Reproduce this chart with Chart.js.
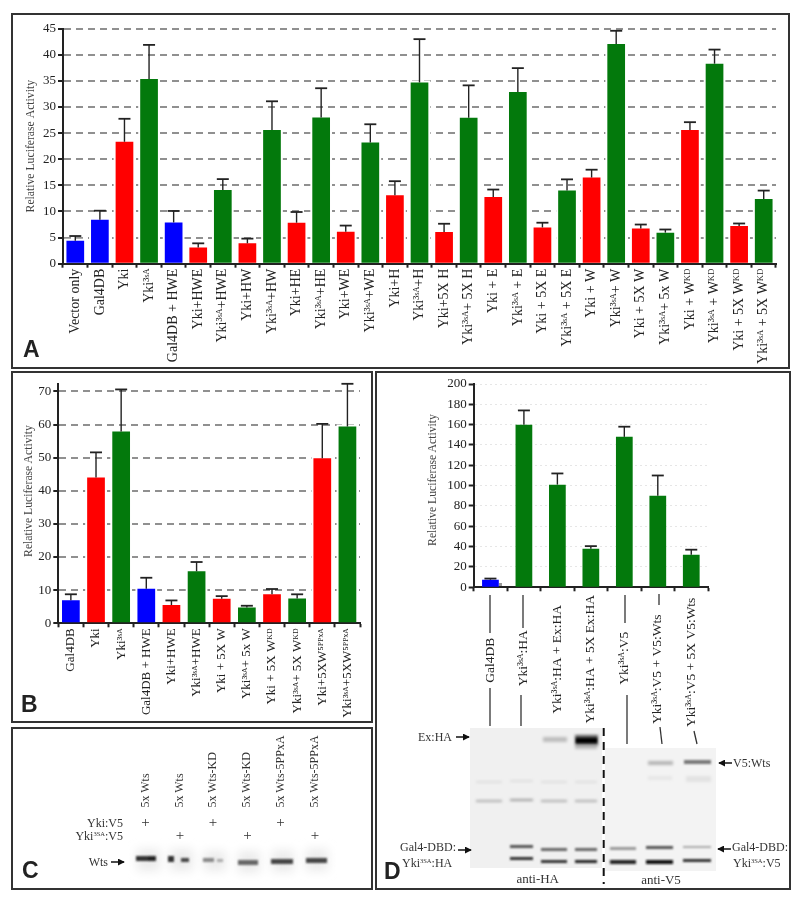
<!DOCTYPE html>
<html><head><meta charset="utf-8">
<script src="https://cdn.jsdelivr.net/npm/chart.js@4"></script>
<style>
html,body{margin:0;padding:0;background:#fff;width:800px;height:900px;overflow:hidden}
canvas{position:absolute;display:block}
svg{position:absolute;left:0;top:0;opacity:.999}
</style></head><body>
<svg width="800" height="900" viewBox="0 0 800 900" font-family="Liberation Serif" fill="#222">
<defs>
<filter id="b1" x="-30%" y="-200%" width="160%" height="500%"><feGaussianBlur stdDeviation="1.2"/></filter>
<filter id="b2" x="-30%" y="-200%" width="160%" height="500%"><feGaussianBlur stdDeviation="1.6"/></filter>
<filter id="b5" x="-30%" y="-100%" width="160%" height="300%"><feGaussianBlur stdDeviation="5"/></filter>
<marker id="ah" viewBox="0 0 8 8" refX="7" refY="4" markerWidth="7" markerHeight="7" markerUnits="userSpaceOnUse" orient="auto"><path d="M0 0L8 4L0 8z" fill="#111"/></marker>
</defs>
<g fill="none" stroke="#333" stroke-width="2">
<rect x="12" y="14" width="777" height="354"/>
<rect x="12" y="372" width="360" height="350"/>
<rect x="12" y="728" width="360" height="161"/>
<rect x="376" y="372" width="414" height="517"/>
</g>
<g font-family="Liberation Sans" font-weight="bold" font-size="23" fill="#222">
<text x="23" y="357">A</text><text x="21" y="712">B</text><text x="22" y="878">C</text><text x="384" y="879">D</text>
</g>

<!-- y axis titles of panels B and D -->
<g font-size="11.7" fill="#444" text-anchor="middle">
<text transform="translate(32,491) rotate(-90)">Relative Luciferase Activity</text>
<text transform="translate(436,480) rotate(-90)">Relative Luciferase Activity</text>
</g>
<rect x="499" y="583" width="3" height="4" fill="#999"/>

<!-- Panel C -->
<g font-size="12" fill="#333">
<text transform="translate(149,807.5) rotate(-90)">5x Wts</text>
<text transform="translate(183,807.5) rotate(-90)">5x Wts</text>
<text transform="translate(216,807.5) rotate(-90)">5x Wts-KD</text>
<text transform="translate(250,807.5) rotate(-90)">5x Wts-KD</text>
<text transform="translate(284,807.5) rotate(-90)">5x Wts-5PPxA</text>
<text transform="translate(318,807.5) rotate(-90)">5x Wts-5PPxA</text>
</g>
<g font-size="15" fill="#333" text-anchor="middle">
<text x="145.5" y="826.500">+</text><text x="213" y="826.500">+</text><text x="280.500" y="826.500">+</text>
<text x="180" y="840">+</text><text x="247.500" y="840">+</text><text x="315" y="840">+</text>
</g>
<g font-size="12" fill="#333" text-anchor="end">
<text x="123" y="826.500">Yki:V5</text>
<text x="123" y="840">Yki<tspan font-size="6.500" dy="-4">3SA</tspan><tspan dy="4">:V5</tspan></text>
<text x="108" y="866">Wts</text>
</g>
<line x1="111" y1="862" x2="124" y2="862" stroke="#111" stroke-width="1.500" marker-end="url(#ah)"/>
<g filter="url(#b5)" fill="#ececec">
<rect x="137" y="849" width="23" height="22"/><rect x="170" y="849" width="23" height="22"/><rect x="204" y="851" width="22" height="20"/><rect x="238" y="851" width="22" height="22"/><rect x="272" y="850" width="22" height="22"/><rect x="306" y="849" width="22" height="22"/>
</g>
<g filter="url(#b1)">
<rect x="136" y="856" width="20" height="5" fill="#333"/><rect x="148" y="856" width="7" height="5" fill="#222"/>
<rect x="168" y="856" width="6" height="6" fill="#333"/><rect x="181" y="858" width="8" height="4" fill="#444"/>
<rect x="203" y="858" width="11" height="4" fill="#888"/><rect x="217" y="859" width="6" height="3" fill="#aaa"/>
<rect x="238" y="860" width="20" height="5" fill="#666"/>
<rect x="271" y="859" width="22" height="5" fill="#444"/>
<rect x="306" y="858" width="21" height="5" fill="#444"/>
</g>

<!-- Panel D blots -->
<rect x="470" y="728" width="132" height="140" fill="#f0f0f0"/>
<rect x="605" y="748" width="111" height="123" fill="#f3f3f3"/>
<g filter="url(#b2)">
<rect x="543" y="737" width="24" height="5" fill="#bdbdbd"/>
<rect x="575" y="735" width="23" height="11" fill="#555"/>
<rect x="575" y="745" width="22" height="4" fill="#bbb"/>
<rect x="476" y="781" width="26" height="2" fill="#ddd"/><rect x="510" y="780" width="23" height="2" fill="#ddd"/><rect x="541" y="781" width="26" height="2" fill="#ddd"/><rect x="575" y="781" width="22" height="2" fill="#ddd"/>
<rect x="648" y="776" width="24" height="4" fill="#e6e6e6"/><rect x="686" y="776" width="25" height="6" fill="#e2e2e2"/>
<rect x="648" y="761" width="25" height="4" fill="#b5b5b5"/>
<rect x="476" y="800" width="26" height="2" fill="#aaa"/><rect x="510" y="799" width="23" height="2" fill="#999"/><rect x="541" y="800" width="26" height="2" fill="#aaa"/><rect x="575" y="800" width="22" height="2" fill="#aaa"/>
</g>
<g filter="url(#b1)">
<rect x="576" y="738" width="21" height="5" fill="#000"/>
<rect x="510" y="845" width="23" height="3" fill="#555"/><rect x="541" y="848" width="26" height="3" fill="#666"/><rect x="575" y="848" width="22" height="3" fill="#666"/>
<rect x="510" y="857" width="23" height="3" fill="#333"/><rect x="541" y="860" width="26" height="3" fill="#333"/><rect x="575" y="860" width="22" height="3" fill="#222"/>
<rect x="684" y="760" width="27" height="4" fill="#777"/>
<rect x="610" y="847" width="26" height="3" fill="#999"/><rect x="646" y="846" width="27" height="3" fill="#555"/><rect x="683" y="846" width="28" height="2" fill="#aaa"/>
<rect x="610" y="860" width="26" height="4" fill="#222"/><rect x="646" y="860" width="27" height="4" fill="#111"/><rect x="683" y="859" width="28" height="3" fill="#333"/>
</g>
<line x1="603.700" y1="728" x2="603.700" y2="884" stroke="#111" stroke-width="2" stroke-dasharray="8 6"/>
<g stroke="#333" stroke-width="1.300">
<line x1="490" y1="595" x2="490" y2="633"/><line x1="490" y1="688" x2="490" y2="726"/>
<line x1="523" y1="595" x2="523" y2="628"/><line x1="521" y1="695" x2="521" y2="726"/>
<line x1="625" y1="595" x2="625" y2="623"/><line x1="627" y1="695" x2="627" y2="744"/>
<line x1="659" y1="594" x2="659" y2="605"/><line x1="660" y1="727" x2="662" y2="744"/>
<line x1="694" y1="731" x2="697" y2="744"/>
</g>
<g stroke="#111" stroke-width="1.500" marker-end="url(#ah)">
<line x1="456" y1="737" x2="469" y2="737"/>
<line x1="732" y1="763" x2="719" y2="763"/>
<line x1="458" y1="850" x2="471" y2="850"/>
<line x1="731" y1="849" x2="718" y2="849"/>
</g>
<g font-size="12" fill="#333">
<text x="418" y="741">Ex:HA</text>
<text x="733" y="767">V5:Wts</text>
<text x="400" y="851">Gal4-DBD:</text>
<text x="402" y="867">Yki<tspan font-size="6.500" dy="-4">3SA</tspan><tspan dy="4">:HA</tspan></text>
<text x="732" y="851">Gal4-DBD:</text>
<text x="733" y="867">Yki<tspan font-size="6.500" dy="-4">3SA</tspan><tspan dy="4">:V5</tspan></text>
</g>
<g font-size="13" fill="#333" text-anchor="middle">
<text x="537.700" y="883">anti-HA</text><text x="661" y="884">anti-V5</text>
</g>
</svg>

<canvas id="chartA" width="774" height="352" style="left:14px;top:14px"></canvas>
<canvas id="chartB" width="352" height="346" style="left:14px;top:374px"></canvas>
<canvas id="chartD" width="313" height="361" style="left:415px;top:374px"></canvas>

<script>
const categoriesA = ["Vector only","Gal4DB","Yki","Yki³ˢᴬ","Gal4DB + HWE","Yki+HWE","Yki³ˢᴬ+HWE","Yki+HW","Yki³ˢᴬ+HW","Yki+HE","Yki³ˢᴬ+HE","Yki+WE","Yki³ˢᴬ+WE","Yki+H","Yki³ˢᴬ+H","Yki+5X H","Yki³ˢᴬ+ 5X H","Yki + E","Yki³ˢᴬ + E","Yki + 5X E","Yki³ˢᴬ + 5X E","Yki + W","Yki³ˢᴬ+ W","Yki + 5X W","Yki³ˢᴬ+ 5x W","Yki + Wᴷᴰ","Yki³ˢᴬ + Wᴷᴰ","Yki + 5X Wᴷᴰ","Yki³ˢᴬ + 5X Wᴷᴰ"];
const valuesA = [4.4,8.4,23.35,35.35,7.9,3.1,14.1,3.9,25.6,7.85,28,6.1,23.2,13.1,34.7,6.05,27.95,12.75,32.9,6.95,14,16.5,42.05,6.75,5.95,25.6,38.3,7.2,12.4];
const errorTopsA = [5.3,10.15,27.75,41.9,10.1,3.9,16.2,4.8,31.1,9.9,33.6,7.3,26.7,15.8,43,7.65,34.15,14.2,37.45,7.85,16.15,18,44.6,7.5,6.55,27.1,41,7.7,14];

const categoriesB = ["Gal4DB","Yki","Yki³ˢᴬ","Gal4DB + HWE","Yki+HWE","Yki³ˢᴬ+HWE","Yki + 5X W","Yki³ˢᴬ+ 5x W","Yki + 5X Wᴷᴰ","Yki³ˢᴬ+ 5X Wᴷᴰ","Yki+5XW⁵ᴾᴾˣᴬ","Yki³ˢᴬ+5XW⁵ᴾᴾˣᴬ"];
const valuesB = [6.97,44,57.9,10.45,5.5,15.7,7.4,4.8,8.8,7.5,49.8,59.4];
const errorTopsB = [8.76,51.6,70.6,13.75,6.9,18.5,8.2,5.3,10.35,8.75,60.2,72.3];

const categoriesD = ["Gal4DB","Yki³ˢᴬ:HA","Yki³ˢᴬ:HA + Ex:HA","Yki³ˢᴬ:HA + 5X Ex:HA","Yki³ˢᴬ:V5","Yki³ˢᴬ:V5 + V5:Wts","Yki³ˢᴬ:V5 + 5X V5:Wts"];
const valuesD = [7.5,160,101,38,148,90,32];
const errorTopsD = [8.6,174,112,40.5,158,110,37];

const serif = "'Liberation Serif'";
const colorFor = l => l.includes("³ˢᴬ") ? "#03790c" : l.startsWith("Yki") ? "#ff0000" : "#0000ff";

const errorBars = {
  id: "errorBars",
  afterDatasetsDraw(chart, args, opts) {
    const {ctx} = chart, meta = chart.getDatasetMeta(0), y = chart.scales.y;
    ctx.save();
    ctx.strokeStyle = "#222";
    opts.tops.forEach((top, i) => {
      const bar = meta.data[i], yt = y.getPixelForValue(top);
      ctx.lineWidth = 1.4;
      ctx.beginPath(); ctx.moveTo(bar.x, bar.y); ctx.lineTo(bar.x, yt); ctx.stroke();
      ctx.lineWidth = 1.8;
      ctx.beginPath(); ctx.moveTo(bar.x - opts.cap, yt); ctx.lineTo(bar.x + opts.cap, yt); ctx.stroke();
    });
    ctx.restore();
  }
};
const barHalo = {
  id: "barHalo",
  beforeDatasetsDraw(chart, args, opts) {
    if (!opts.size) return;
    const {ctx} = chart;
    ctx.save(); ctx.fillStyle = "#fff";
    chart.getDatasetMeta(0).data.forEach(b => {
      ctx.fillRect(b.x - b.width/2 - opts.size, b.y - opts.size, b.width + 2*opts.size, b.base - b.y + opts.size - 1);
    });
    ctx.restore();
  }
};
const centredLabels = {
  id: "centredLabels",
  afterDraw(chart, args, opts) {
    if (!opts.middles) return;
    const {ctx} = chart, x = chart.scales.x, top = x.top;
    ctx.save();
    ctx.font = opts.font; ctx.fillStyle = "#222";
    ctx.textAlign = "center"; ctx.textBaseline = "middle";
    chart.data.labels.forEach((l, i) => {
      ctx.save();
      ctx.translate(x.getPixelForTick(i), top + opts.middles[i]);
      ctx.rotate(-Math.PI/2);
      ctx.fillText(l, 0, 0);
      ctx.restore();
    });
    ctx.restore();
  }
};

function build(id, cfg) {
  return new Chart(document.getElementById(id), {
    type: "bar",
    plugins: [barHalo, errorBars, centredLabels],
    data: {
      labels: cfg.labels,
      datasets: [{
        data: cfg.values,
        backgroundColor: cfg.labels.map(colorFor),
        barPercentage: cfg.barFrac,
        categoryPercentage: 1,
        borderWidth: 0
      }]
    },
    options: {
      responsive: false, animation: false,
      layout: {padding: cfg.padding},
      plugins: {
        legend: {display: false},
        tooltip: {enabled: false},
        title: {display: false},
        errorBars: {tops: cfg.tops, cap: cfg.cap},
        barHalo: {size: cfg.halo},
        centredLabels: {middles: cfg.middles, font: "13.5px " + serif}
      },
      scales: {
        x: {
          afterFit: s => { s.height = cfg.xHeight; },
          border: {color: "#222", width: 2},
          grid: {drawOnChartArea: false, drawTicks: true, tickLength: 4, tickColor: "#222", tickWidth: 2, offset: true},
          ticks: {
            display: !cfg.middles,
            autoSkip: false, minRotation: 90, maxRotation: 90, padding: 1,
            color: "#222", font: {family: serif, size: cfg.xFont}
          }
        },
        y: {
          min: 0, max: cfg.max,
          afterFit: s => { s.width = cfg.yWidth; },
          border: {color: "#222", width: 2, dash: cfg.dash},
          grid: {color: cfg.gridColor, lineWidth: cfg.gridWidth, tickColor: "#222", tickWidth: 2, tickLength: 5},
          ticks: {
            stepSize: cfg.step, includeBounds: false, padding: 2,
            color: "#222", font: {family: serif, size: 13}
          },
          title: {
            display: cfg.nativeTitle, text: "Relative Luciferase Activity",
            color: "#444", font: {family: serif, size: 11.7},
            padding: {top: 10, bottom: 0}
          }
        }
      }
    }
  });
}

build("chartA", {labels: categoriesA, values: valuesA, tops: errorTopsA, max: 45, step: 5,
  barFrac: 0.72, cap: 6, halo: 2, xFont: 14, xHeight: 102.3, yWidth: 49, nativeTitle: true,
  padding: {top: 14.7, right: 12, left: 0, bottom: 0},
  dash: [7,5], gridColor: "#909090", gridWidth: 2});
build("chartB", {labels: categoriesB, values: valuesB, tops: errorTopsB, max: 72.3, step: 10,
  barFrac: 0.705, cap: 6, halo: 2, xFont: 13, xHeight: 96.7, yWidth: 44.3, nativeTitle: false,
  padding: {top: 7.3, right: 6, left: 0, bottom: 0},
  dash: [7,5], gridColor: "#909090", gridWidth: 2});
build("chartD", {labels: categoriesD, values: valuesD, tops: errorTopsD, max: 200, step: 20,
  barFrac: 0.5, cap: 6, halo: 0, xFont: 13.5, xHeight: 147.7, yWidth: 58.7, nativeTitle: false,
  middles: [73,71,72,72,71,82,75],
  padding: {top: 10, right: 20, left: 0, bottom: 0},
  dash: [2,3], gridColor: "#e6e6e6", gridWidth: 1});
</script>
</body></html>
